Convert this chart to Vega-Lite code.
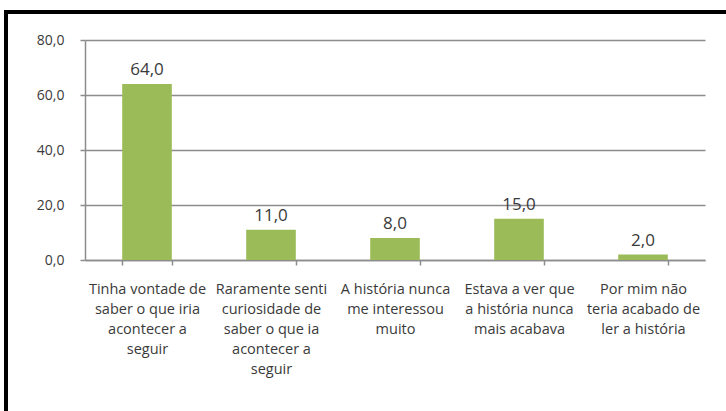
{
  "$schema": "https://vega.github.io/schema/vega-lite/v6.json",
  "width": 720,
  "height": 399,
  "autosize": {"type": "none"},
  "padding": {"left": 6, "top": 12, "right": 0, "bottom": 0},
  "background": "white",
  "config": {
    "view": {"stroke": "black", "strokeWidth": 4, "strokeDash": [720, 1119, 399], "strokeCap": "square"},
    "font": "Open Sans",
    "locale": {"number": {"decimal": ",", "thousands": ".", "grouping": [3], "currency": ["", " €"]}}
  },
  "data": {
    "values": [
      {"resposta": "Tinha vontade de saber o que iria acontecer a seguir", "percentagem": 64.0},
      {"resposta": "Raramente senti curiosidade de saber o que ia acontecer a seguir", "percentagem": 11.0},
      {"resposta": "A história nunca me interessou muito", "percentagem": 8.0},
      {"resposta": "Estava a ver que a história nunca mais acabava", "percentagem": 15.0},
      {"resposta": "Por mim não teria acabado de ler a história", "percentagem": 2.0}
    ]
  },
  "encoding": {
    "x": {
      "field": "resposta",
      "type": "nominal",
      "sort": null,
      "scale": {"range": [79, 699], "paddingInner": 0.6, "paddingOuter": 0.3},
      "axis": {
        "title": null,
        "orient": "bottom",
        "offset": -151,
        "labelAngle": 0,
        "labelLimit": 0,
        "labelExpr": "{'Tinha vontade de saber o que iria acontecer a seguir': ['Tinha vontade de', 'saber o que iria', 'acontecer a', 'seguir'], 'Raramente senti curiosidade de saber o que ia acontecer a seguir': ['Raramente senti', 'curiosidade de', 'saber o que ia', 'acontecer a', 'seguir'], 'A história nunca me interessou muito': ['A história nunca', 'me interessou', 'muito'], 'Estava a ver que a história nunca mais acabava': ['Estava a ver que', 'a história nunca', 'mais acabava'], 'Por mim não teria acabado de ler a história': ['Por mim não', 'teria acabado de', 'ler a história']}[datum.value]",
        "tickBand": "extent",
        "grid": false,
        "domainColor": "#8c8c8c",
        "domainWidth": 1.5,
        "tickColor": "#8c8c8c",
        "tickWidth": 1.5,
        "tickSize": 5,
        "labelFontSize": 14.5,
        "labelColor": "#3a3a3a",
        "labelPadding": 17,
        "labelLineHeight": 20,
        "labelBaseline": "top"
      }
    },
    "y": {
      "field": "percentagem",
      "type": "quantitative",
      "scale": {"domain": [0, 80], "range": [248, 28], "nice": false},
      "axis": {
        "title": null,
        "offset": -79,
        "values": [0, 20, 40, 60, 80],
        "format": ".1f",
        "grid": true,
        "gridColor": "#8c8c8c",
        "gridWidth": 1.5,
        "domainColor": "#8c8c8c",
        "domainWidth": 1.5,
        "tickColor": "#8c8c8c",
        "tickWidth": 1.5,
        "tickSize": 5,
        "labelFontSize": 14,
        "labelColor": "#3a3a3a",
        "labelPadding": 16
      }
    }
  },
  "layer": [
    {"mark": {"type": "bar", "color": "#9BBB59"}},
    {
      "mark": {"type": "text", "baseline": "bottom", "dy": -5, "fontSize": 17, "color": "#3a3a3a"},
      "encoding": {"text": {"field": "percentagem", "type": "quantitative", "format": ".1f"}}
    }
  ]
}
